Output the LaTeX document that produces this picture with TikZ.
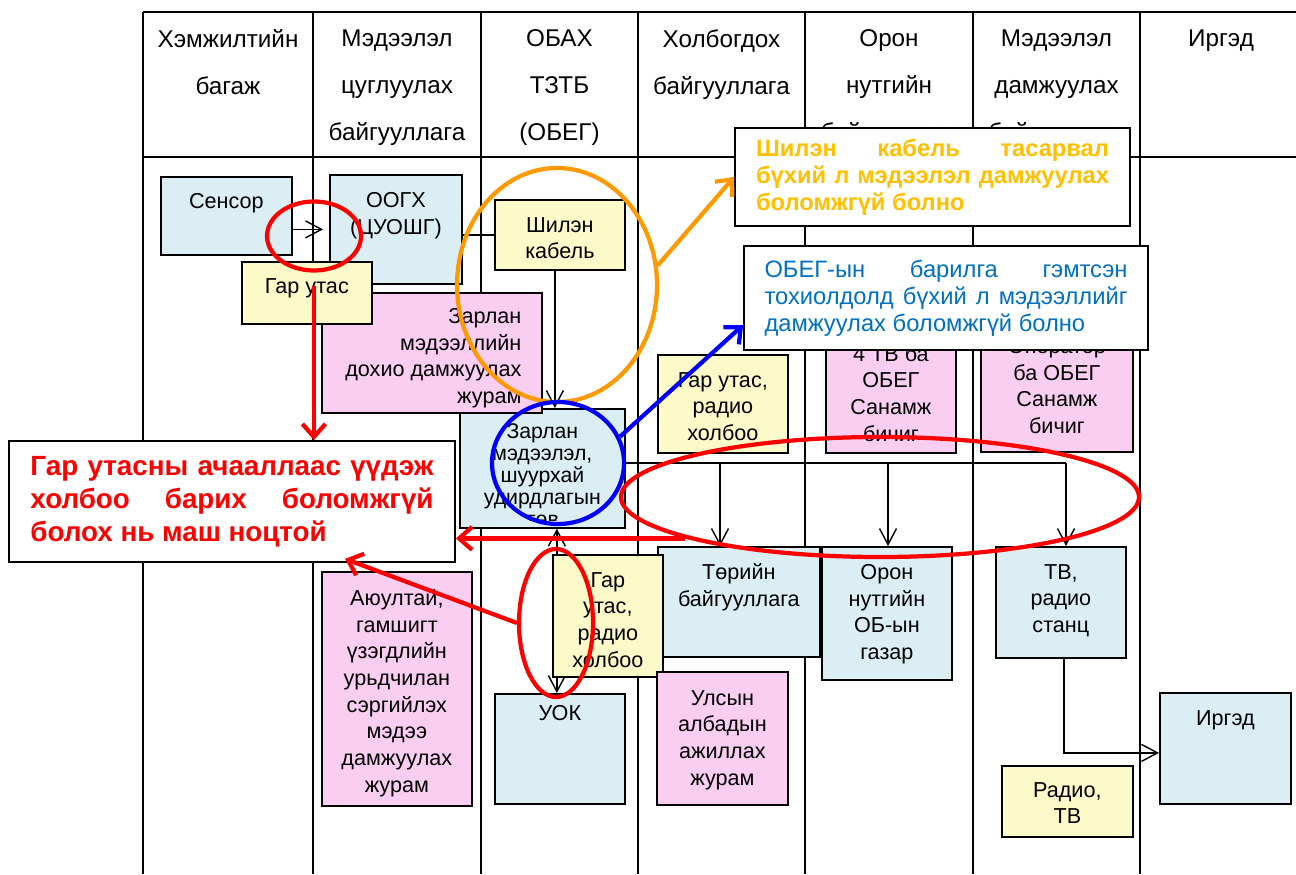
\documentclass[tikz,border=0pt]{standalone}
\usepackage{fontspec}
\setmainfont{Liberation Sans}
\usepackage{tikz}
\usetikzlibrary{arrows.meta,shapes.geometric,backgrounds}
\definecolor{boxblue}{HTML}{DAEEF3}
\definecolor{boxyellow}{HTML}{FCFAC8}
\definecolor{boxpink}{HTML}{F9CEF1}
\definecolor{calloutorange}{HTML}{FFC000}
\definecolor{ringorange}{HTML}{FF9900}
\definecolor{calloutblue}{HTML}{0070C0}
\newcommand{\bodyfont}{\fontsize{12.3}{15.2}\selectfont}
\newcommand{\tightfont}{\fontsize{12.1}{12.6}\selectfont}
\newcommand{\headfont}{\fontsize{13.8}{26.8}\selectfont}
\newcommand{\redfont}{\fontsize{15.8}{18.8}\selectfont\bfseries}
\newcommand{\orangefont}{\fontsize{13.5}{15.4}\selectfont\bfseries}
\newcommand{\bluefont}{\fontsize{13.5}{15.4}\selectfont}

\begin{document}
\begin{tikzpicture}[x=0.2mm, y=-0.2mm,
  box/.style={draw=black, line width=1pt, anchor=north west, inner sep=0pt},
  bluebox/.style={box, fill=boxblue},
  yellowbox/.style={box, fill=boxyellow},
  pinkbox/.style={box, fill=boxpink},
  txt/.style={anchor=north, align=center, font=\bodyfont, inner sep=0pt},
  colhead/.style={anchor=north, align=center, font=\headfont},
  grid/.style={line width=1.2pt},
  conn/.style={line width=0.8pt},
  arr/.style={conn, -{Straight Barb[length=3.2mm, width=3.4mm]}},
  arr2/.style={conn, {Straight Barb[length=3.2mm, width=3.4mm]}-{Straight Barb[length=3.2mm, width=3.4mm]}},
  note/.style={draw=black, line width=1pt, fill=white, align=justify, inner xsep=4.2mm},
  halo/.style={draw=#1, line width=2.4pt, ellipse, inner sep=0pt},
  hint/.style={draw=#1, line width=2.4pt, -{Straight Barb[length=2.6mm, width=4.6mm]}}
]
\useasboundingbox (0,0) rectangle (1296,874);
\tikzstyle{every node}+=[inner sep=0pt]
\node[colhead] (h1) at (228,29) {Хэмжилтийн\\багаж};
\node[colhead] (h2) at (397,29) {Мэдээлэл\\цуглуулах\\байгууллага};
\node[colhead] (h3) at (559.5,29) {ОБАХ\\ТЗТБ\\(ОБЕГ)};
\node[colhead] (h4) at (721.5,29) {Холбогдох\\байгууллага};
\node[colhead] (h5) at (889,29) {Орон\\нутгийн\\байгууллага};
\node[colhead] (h6) at (1056.5,29) {Мэдээлэл\\дамжуулах\\байгууллага};
\node[colhead] (h7) at (1221,29) {Иргэд};

\node[bluebox, minimum width=26.2mm, minimum height=15.6mm] (sensor) at (160,176) {};
\node[txt] (sensor-t) at ([yshift=-3.4mm]sensor.north) {Сенсор};
\node[bluebox, minimum width=26.4mm, minimum height=21.8mm] (oogx) at (329,174) {};
\node[txt] (oogx-t) at ([yshift=-3.6mm]oogx.north) {ООГХ\\(ЦУОШГ)};
\node[yellowbox, minimum width=26mm, minimum height=14mm] (cable) at (494,199) {};
\node[txt] (cable-t) at ([yshift=-3.6mm]cable.north) {Шилэн\\кабель};
\node[bluebox, minimum width=33mm, minimum height=23.8mm] (center) at (459,408) {};
\begin{scope}
\clip (center.north west) rectangle ([yshift=1.6mm]center.south east);
\node[txt, font=\tightfont] (center-t) at ([yshift=-3mm]center.north) {Зарлан\\мэдээлэл,\\шуурхай\\удирдлагын\\төв};
\end{scope}
\node[pinkbox, minimum width=44mm, minimum height=24mm] (notice) at (321,292) {};
\node[txt, anchor=north east, align=right] (notice-t) at ([xshift=-4.2mm, yshift=-3.2mm]notice.north east) {Зарлан\\мэдээллийн\\дохио дамжуулах\\журам};
\node[yellowbox, minimum width=26mm, minimum height=12.4mm] (phone1) at (241,261) {};
\node[txt] (phone1-t) at ([yshift=-3.4mm]phone1.north) {Гар утас};

\node[yellowbox, minimum width=26mm, minimum height=19.6mm] (phone2) at (657,354) {};
\node[txt] (phone2-t) at ([yshift=-3.6mm]phone2.north) {Гар утас,\\радио\\холбоо};
\node[pinkbox, minimum width=26mm, minimum height=24.4mm] (tv4) at (825,330) {};
\node[txt] (tv4-t) at ([yshift=-3mm]tv4.north) {4 ТВ ба\\ОБЕГ\\Санамж\\бичиг};
\node[pinkbox, minimum width=30.4mm, minimum height=25.2mm] (operator) at (980,325) {};
\node[txt] (operator-t) at ([yshift=-2.6mm]operator.north) {Оператор\\ба ОБЕГ\\Санамж\\бичиг};

\node[bluebox, minimum width=32.4mm, minimum height=22mm] (gov) at (657,546) {};
\node[txt] (gov-t) at ([yshift=-3.4mm]gov.north) {Төрийн\\байгууллага};
\node[bluebox, minimum width=26mm, minimum height=26.6mm] (local) at (821,546) {};
\node[txt] (local-t) at ([yshift=-3.6mm]local.north) {Орон\\нутгийн\\ОБ-ын\\газар};
\node[bluebox, minimum width=26mm, minimum height=22.2mm] (tvst) at (995,546) {};
\node[txt] (tvst-t) at ([yshift=-3.6mm]tvst.north) {ТВ,\\радио\\станц};
\node[yellowbox, minimum width=22mm, minimum height=24.4mm] (phone3) at (552,554) {};
\node[txt] (phone3-t) at ([yshift=-3.6mm]phone3.north) {Гар\\утас,\\радио\\холбоо};
\node[bluebox, minimum width=26mm, minimum height=22mm] (uok) at (494,693) {};
\node[txt] (uok-t) at ([yshift=-2.4mm]uok.north) {УОК};
\node[pinkbox, minimum width=30mm, minimum height=46.8mm] (hazard) at (321,571) {};
\node[txt] (hazard-t) at ([yshift=-3.6mm]hazard.north) {Аюултай,\\гамшигт\\үзэгдлийн\\урьдчилан\\сэргийлэх\\мэдээ\\дамжуулах\\журам};
\node[pinkbox, minimum width=26.2mm, minimum height=26.6mm] (law) at (656,671) {};
\node[txt] (law-t) at ([yshift=-3.8mm]law.north) {Улсын\\албадын\\ажиллах\\журам};
\node[bluebox, minimum width=26.2mm, minimum height=22.2mm] (citizens) at (1159,692) {};
\node[txt] (citizens-t) at ([yshift=-3.6mm]citizens.north) {Иргэд};
\node[yellowbox, minimum width=26.2mm, minimum height=14.2mm] (radiotv) at (1001,765) {};
\node[txt] (radiotv-t) at ([yshift=-3.4mm]radiotv.north) {Радио,\\ТВ};

\begin{pgfonlayer}{background}
\draw[grid] (143,12) -- (1296,12);
\draw[grid] (143,157) -- (1296,157);
\foreach \x in {143,313,481,638,805,973,1140}
  \draw[grid] (\x,12) -- (\x,874);
\draw[arr, shorten >=1.2mm] (sensor.east |- oogx.west) -- (oogx.west);
\draw[conn] (oogx.east |- cable.west) -- (cable.west);
\coordinate (c1) at ([xshift=-1mm]cable.south);
\draw[arr] (c1) -- (c1 |- center.north);
\coordinate (c2) at ([xshift=-0.6mm]uok.north);
\draw[arr2] (c2 |- center.south) -- (c2);
\coordinate (d1) at (720,463);
\coordinate (d2) at (888,463);
\coordinate (d3) at (1066,463);
\draw[conn] (center.east |- d3) -- (d3);
\foreach \dn/\bx in {d1/gov, d2/local, d3/tvst}
  \draw[arr] (\dn) -- (\dn |- \bx.north);
\coordinate (c3) at ([xshift=0.6mm]tvst.south);
\draw[arr] (c3) |- ([yshift=-0.9mm]citizens.west);
\end{pgfonlayer}

\node[note, text width=70.6mm, minimum height=19.6mm, text=calloutorange, font=\orangefont] (obox) at (932.5,177) {Шилэн кабель тасарвал\linebreak бүхий л мэдээлэл дамжуулах\linebreak боломжгүй болно};
\node[note, text width=72.6mm, minimum height=20.8mm, text=calloutblue, font=\bluefont, inner xsep=4.1mm] (bbox) at (946,298) {ОБЕГ-ын барилга гэмтсэн\linebreak тохиолдолд бүхий л мэдээллийг\linebreak дамжуулах боломжгүй болно};
\node[note, text width=80.6mm, minimum height=24.2mm, text=red, font=\redfont, inner xsep=4.3mm] (redbox) at (232,501.5) {Гар утасны ачааллаас үүдэж\linebreak холбоо барих боломжгүй\linebreak болох нь маш ноцтой};

\node[halo=red, minimum width=18.8mm, minimum height=13.8mm] (ringS) at (314,236) {};
\node[halo=ringorange, minimum width=40mm, minimum height=46.8mm] (ringO) at (557,285) {};
\node[halo=blue, minimum width=26.4mm, minimum height=24.4mm] (ringBl) at (558,463) {};
\node[halo=red, minimum width=103.6mm, minimum height=24mm] (ringD) at (880,497) {};
\node[halo=red, minimum width=14.8mm, minimum height=29.6mm] (ringP) at (556,623) {};

\coordinate (p1) at ([xshift=1.4mm, yshift=1.4mm]phone1.center);
\draw[hint=red] (p1) -- (p1 |- redbox.north);
\draw[hint=red] (ringD.192) -- (ringD.192 -| redbox.east);
\draw[hint=red] (ringP.west) -- ([xshift=22.6mm, yshift=0.8mm]redbox.south);
\draw[hint=ringorange] (ringO.11) -- (obox.west);
\draw[hint=blue] (ringBl.23) -- ([yshift=-5.4mm]bbox.west);
\end{tikzpicture}
\end{document}
